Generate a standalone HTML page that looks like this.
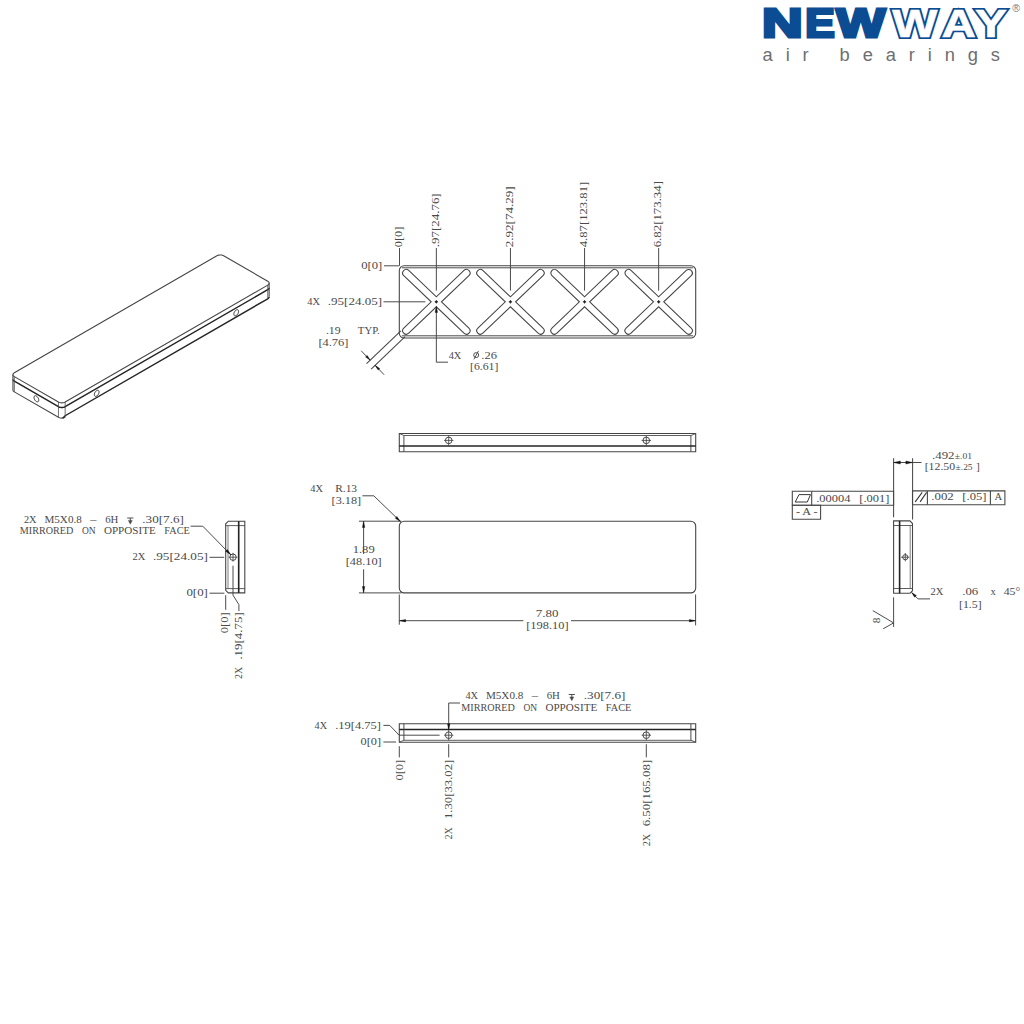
<!DOCTYPE html>
<html><head><meta charset="utf-8"><title>New Way Air Bearings drawing</title>
<style>
html,body{margin:0;padding:0;background:#fff;}
body{width:1024px;height:1024px;overflow:hidden;font-family:"Liberation Serif",serif;}
svg{display:block;}
</style></head><body>
<svg width="1024" height="1024" viewBox="0 0 1024 1024">
<rect x="0" y="0" width="1024" height="1024" fill="#fff"/>
<!-- logo -->
<text y="37.2" font-family="Liberation Sans, sans-serif" font-weight="bold" font-size="40.7" stroke-linejoin="miter" fill="#0c4c92" stroke="#0c4c92" stroke-width="3"><tspan x="762.11" textLength="40.6" lengthAdjust="spacingAndGlyphs">N</tspan><tspan x="805.17" textLength="29.42" lengthAdjust="spacingAndGlyphs">E</tspan><tspan x="836.36" textLength="48.97" lengthAdjust="spacingAndGlyphs">W</tspan></text>
<text y="36.7" font-family="Liberation Sans, sans-serif" font-weight="bold" font-size="39.24" stroke-linejoin="miter" fill="#0c4c92" stroke="#0c4c92" stroke-width="4"><tspan x="892.29" textLength="45.12" lengthAdjust="spacingAndGlyphs">W</tspan><tspan x="941.44" textLength="34.38" lengthAdjust="spacingAndGlyphs">A</tspan><tspan x="975.12" textLength="31.9" lengthAdjust="spacingAndGlyphs">Y</tspan></text>
<text y="36.7" font-family="Liberation Sans, sans-serif" font-weight="bold" font-size="39.24" stroke-linejoin="miter" fill="#fff" stroke="#fff" stroke-width="0.6"><tspan x="892.29" textLength="45.12" lengthAdjust="spacingAndGlyphs">W</tspan><tspan x="941.44" textLength="34.38" lengthAdjust="spacingAndGlyphs">A</tspan><tspan x="975.12" textLength="31.9" lengthAdjust="spacingAndGlyphs">Y</tspan></text>
<text x="1012.3" y="12" font-family="Liberation Sans, sans-serif" font-size="10.5" fill="#77787b">®</text>
<text x="762.6" y="60.8" font-family="Liberation Sans, sans-serif" font-size="18.3" fill="#6d6e71" letter-spacing="12.9">air bearings</text>
<!-- top view -->
<rect x="399.3" y="265.7" width="296.4" height="72.3" rx="4.8" ry="4.8" fill="none" stroke="#454545" stroke-width="1.08"/>
<line x1="401.9" y1="267.8" x2="693.1" y2="267.8" stroke="#454545" stroke-width="0.97"/>
<line x1="401.9" y1="335.8" x2="693.1" y2="335.8" stroke="#454545" stroke-width="0.97"/>
<path d="M441.51 301.8 L468.92 328.02 A3.57 3.57 0 0 1 463.98 333.18 L436.35 306.74 L408.71 333.18 A3.57 3.57 0 0 1 403.77 328.02 L431.18 301.8 L403.77 275.58 A3.57 3.57 0 0 1 408.71 270.42 L436.35 296.86 L463.98 270.42 A3.57 3.57 0 0 1 468.92 275.58 L441.51 301.8 Z" fill="none" stroke="#454545" stroke-width="1.08"/>
<circle cx="436.35" cy="301.8" r="3.6" fill="none" stroke="#f0eee6" stroke-width="0.54"/>
<circle cx="436.35" cy="301.8" r="0.9" fill="#111" stroke="#111" stroke-width="0.65"/>
<line x1="434.65" y1="301.8" x2="438.05" y2="301.8" stroke="#222" stroke-width="0.76"/>
<line x1="436.35" y1="300.1" x2="436.35" y2="303.5" stroke="#222" stroke-width="0.76"/>
<path d="M515.62 301.8 L543.03 328.02 A3.57 3.57 0 0 1 538.09 333.18 L510.45 306.74 L482.82 333.18 A3.57 3.57 0 0 1 477.88 328.02 L505.29 301.8 L477.88 275.58 A3.57 3.57 0 0 1 482.82 270.42 L510.45 296.86 L538.09 270.42 A3.57 3.57 0 0 1 543.03 275.58 L515.62 301.8 Z" fill="none" stroke="#454545" stroke-width="1.08"/>
<circle cx="510.45" cy="301.8" r="3.6" fill="none" stroke="#f0eee6" stroke-width="0.54"/>
<circle cx="510.45" cy="301.8" r="0.9" fill="#111" stroke="#111" stroke-width="0.65"/>
<line x1="508.75" y1="301.8" x2="512.15" y2="301.8" stroke="#222" stroke-width="0.76"/>
<line x1="510.45" y1="300.1" x2="510.45" y2="303.5" stroke="#222" stroke-width="0.76"/>
<path d="M589.71 301.8 L617.12 328.02 A3.57 3.57 0 0 1 612.18 333.18 L584.55 306.74 L556.91 333.18 A3.57 3.57 0 0 1 551.97 328.02 L579.38 301.8 L551.97 275.58 A3.57 3.57 0 0 1 556.91 270.42 L584.55 296.86 L612.18 270.42 A3.57 3.57 0 0 1 617.12 275.58 L589.71 301.8 Z" fill="none" stroke="#454545" stroke-width="1.08"/>
<circle cx="584.55" cy="301.8" r="3.6" fill="none" stroke="#f0eee6" stroke-width="0.54"/>
<circle cx="584.55" cy="301.8" r="0.9" fill="#111" stroke="#111" stroke-width="0.65"/>
<line x1="582.85" y1="301.8" x2="586.25" y2="301.8" stroke="#222" stroke-width="0.76"/>
<line x1="584.55" y1="300.1" x2="584.55" y2="303.5" stroke="#222" stroke-width="0.76"/>
<path d="M663.82 301.8 L691.23 328.02 A3.57 3.57 0 0 1 686.29 333.18 L658.65 306.74 L631.02 333.18 A3.57 3.57 0 0 1 626.08 328.02 L653.49 301.8 L626.08 275.58 A3.57 3.57 0 0 1 631.02 270.42 L658.65 296.86 L686.29 270.42 A3.57 3.57 0 0 1 691.23 275.58 L663.82 301.8 Z" fill="none" stroke="#454545" stroke-width="1.08"/>
<circle cx="658.65" cy="301.8" r="3.6" fill="none" stroke="#f0eee6" stroke-width="0.54"/>
<circle cx="658.65" cy="301.8" r="0.9" fill="#111" stroke="#111" stroke-width="0.65"/>
<line x1="656.95" y1="301.8" x2="660.35" y2="301.8" stroke="#222" stroke-width="0.76"/>
<line x1="658.65" y1="300.1" x2="658.65" y2="303.5" stroke="#222" stroke-width="0.76"/>
<line x1="399.5" y1="248" x2="399.5" y2="265.7" stroke="#454545" stroke-width="0.97"/>
<line x1="436.35" y1="248" x2="436.35" y2="290.6" stroke="#454545" stroke-width="0.97"/>
<line x1="510.45" y1="248" x2="510.45" y2="290.6" stroke="#454545" stroke-width="0.97"/>
<line x1="584.55" y1="248" x2="584.55" y2="290.6" stroke="#454545" stroke-width="0.97"/>
<line x1="658.65" y1="248" x2="658.65" y2="290.6" stroke="#454545" stroke-width="0.97"/>
<text x="402.2" y="247.3" font-family="Liberation Serif, serif" font-size="11.3" fill="#4a4a4a" textLength="20.7" lengthAdjust="spacingAndGlyphs" transform="rotate(-90 402.2 247.3)">0[0]</text>
<text x="438.9" y="247.3" font-family="Liberation Serif, serif" font-size="11.3" fill="#4a4a4a" textLength="54" lengthAdjust="spacingAndGlyphs" transform="rotate(-90 438.9 247.3)">.97[24.76]</text>
<text x="512.9" y="247.3" font-family="Liberation Serif, serif" font-size="11.3" fill="#4a4a4a" textLength="61" lengthAdjust="spacingAndGlyphs" transform="rotate(-90 512.9 247.3)">2.92[74.29]</text>
<text x="587.1" y="247.3" font-family="Liberation Serif, serif" font-size="11.3" fill="#4a4a4a" textLength="65.6" lengthAdjust="spacingAndGlyphs" transform="rotate(-90 587.1 247.3)">4.87[123.81]</text>
<text x="661.2" y="247.3" font-family="Liberation Serif, serif" font-size="11.3" fill="#4a4a4a" textLength="66.3" lengthAdjust="spacingAndGlyphs" transform="rotate(-90 661.2 247.3)">6.82[173.34]</text>
<line x1="384" y1="265.8" x2="399.3" y2="265.8" stroke="#454545" stroke-width="0.97"/>
<text x="361.2" y="269.3" font-family="Liberation Serif, serif" font-size="10.6" fill="#4a4a4a" textLength="21.1" lengthAdjust="spacingAndGlyphs">0[0]</text>
<line x1="383.5" y1="301.8" x2="425.3" y2="301.8" stroke="#454545" stroke-width="0.97"/>
<text x="307.3" y="304.6" font-family="Liberation Serif, serif" font-size="10.6" fill="#4a4a4a" textLength="12.7" lengthAdjust="spacingAndGlyphs">4X</text>
<text x="327.8" y="304.6" font-family="Liberation Serif, serif" font-size="10.6" fill="#4a4a4a" textLength="54.2" lengthAdjust="spacingAndGlyphs">.95[24.05]</text>
<text x="325.9" y="333.9" font-family="Liberation Serif, serif" font-size="10.6" fill="#4a4a4a" textLength="14.6" lengthAdjust="spacingAndGlyphs">.19</text>
<text x="357.8" y="333.9" font-family="Liberation Serif, serif" font-size="10.6" fill="#4a4a4a" textLength="21.9" lengthAdjust="spacingAndGlyphs">TYP.</text>
<text x="318.4" y="346" font-family="Liberation Serif, serif" font-size="10.6" fill="#4a4a4a" textLength="30.1" lengthAdjust="spacingAndGlyphs">[4.76]</text>
<line x1="400.88" y1="330.79" x2="366.56" y2="363.62" stroke="#454545" stroke-width="1.03"/>
<line x1="405.1" y1="336.64" x2="371.14" y2="369.13" stroke="#454545" stroke-width="1.03"/>
<line x1="361.19" y1="350.77" x2="370.17" y2="360.17" stroke="#454545" stroke-width="0.97"/>
<line x1="384.1" y1="374.72" x2="375.11" y2="365.32" stroke="#454545" stroke-width="0.97"/>
<path d="M370.17 360.17 L365.58 356.95 L367.17 355.43 Z" fill="#111" stroke="#111" stroke-width="0.4"/>
<path d="M375.11 365.32 L379.71 368.54 L378.12 370.06 Z" fill="#111" stroke="#111" stroke-width="0.4"/>
<path d="M436.35 306.7 L436.35 362.2 L448 362.2" fill="none" stroke="#454545" stroke-width="0.97"/>
<path d="M436.35 306.4 L437.55 312.4 L435.15 312.4 Z" fill="#111" stroke="#111" stroke-width="0.4"/>
<text x="448.7" y="358.6" font-family="Liberation Serif, serif" font-size="10.6" fill="#4a4a4a" textLength="12.6" lengthAdjust="spacingAndGlyphs">4X</text>
<text x="481.3" y="358.6" font-family="Liberation Serif, serif" font-size="10.6" fill="#4a4a4a" textLength="15.6" lengthAdjust="spacingAndGlyphs">.26</text>
<circle cx="476.2" cy="355.1" r="2.5" fill="none" stroke="#4a4a4a" stroke-width="0.97"/>
<line x1="473.9" y1="359.3" x2="478.5" y2="350.9" stroke="#4a4a4a" stroke-width="0.97"/>
<text x="470" y="370" font-family="Liberation Serif, serif" font-size="10.6" fill="#4a4a4a" textLength="28.4" lengthAdjust="spacingAndGlyphs">[6.61]</text>
<!-- side view -->
<path d="M399.3 433.5 L695.7 433.5 L695.7 451.7 L399.3 451.7 Z" fill="none" stroke="#454545" stroke-width="1.08"/>
<line x1="403.9" y1="435.5" x2="691.1" y2="435.5" stroke="#454545" stroke-width="0.86"/>
<line x1="399.3" y1="433.5" x2="403.9" y2="435.5" stroke="#454545" stroke-width="0.86"/>
<line x1="695.7" y1="433.5" x2="691.1" y2="435.5" stroke="#454545" stroke-width="0.86"/>
<line x1="403.9" y1="435.5" x2="403.9" y2="451.7" stroke="#454545" stroke-width="0.97"/>
<line x1="690.9" y1="435.5" x2="690.9" y2="451.7" stroke="#454545" stroke-width="0.97"/>
<line x1="399.3" y1="446" x2="695.7" y2="446" stroke="#242424" stroke-width="1.73"/>
<circle cx="448.7" cy="440.4" r="3.3" fill="none" stroke="#454545" stroke-width="0.97"/>
<line x1="444" y1="440.4" x2="453.4" y2="440.4" stroke="#454545" stroke-width="0.86"/>
<line x1="448.7" y1="435.3" x2="448.7" y2="446" stroke="#454545" stroke-width="0.86"/>
<circle cx="646.3" cy="440.4" r="3.3" fill="none" stroke="#454545" stroke-width="0.97"/>
<line x1="641.6" y1="440.4" x2="651" y2="440.4" stroke="#454545" stroke-width="0.86"/>
<line x1="646.3" y1="435.3" x2="646.3" y2="446" stroke="#454545" stroke-width="0.86"/>
<!-- plain view -->
<rect x="399.3" y="521.2" width="296.4" height="71.7" rx="4.8" ry="4.8" fill="none" stroke="#454545" stroke-width="1.08"/>
<line x1="358.9" y1="521.2" x2="401.3" y2="521.2" stroke="#454545" stroke-width="0.97"/>
<line x1="358.9" y1="592.9" x2="401.3" y2="592.9" stroke="#454545" stroke-width="0.97"/>
<line x1="363.6" y1="521.2" x2="363.6" y2="554" stroke="#454545" stroke-width="0.97"/>
<line x1="363.6" y1="569.3" x2="363.6" y2="592.9" stroke="#454545" stroke-width="0.97"/>
<path d="M363.6 521.5 L364.8 527.5 L362.4 527.5 Z" fill="#111" stroke="#111" stroke-width="0.4"/>
<path d="M363.6 592.6 L362.4 586.6 L364.8 586.6 Z" fill="#111" stroke="#111" stroke-width="0.4"/>
<text x="352.7" y="552.9" font-family="Liberation Serif, serif" font-size="10.6" fill="#4a4a4a" textLength="22" lengthAdjust="spacingAndGlyphs">1.89</text>
<text x="345.7" y="564.8" font-family="Liberation Serif, serif" font-size="10.6" fill="#4a4a4a" textLength="36" lengthAdjust="spacingAndGlyphs">[48.10]</text>
<text x="310.2" y="491.9" font-family="Liberation Serif, serif" font-size="10.6" fill="#4a4a4a" textLength="12.7" lengthAdjust="spacingAndGlyphs">4X</text>
<text x="335.2" y="491.9" font-family="Liberation Serif, serif" font-size="10.6" fill="#4a4a4a" textLength="21.9" lengthAdjust="spacingAndGlyphs">R.13</text>
<text x="331.6" y="503.8" font-family="Liberation Serif, serif" font-size="10.6" fill="#4a4a4a" textLength="29.6" lengthAdjust="spacingAndGlyphs">[3.18]</text>
<path d="M362.4 495.8 L373.8 495.8 L400.2 521.3" fill="none" stroke="#454545" stroke-width="0.97"/>
<path d="M400.4 521.5 L395.25 518.19 L396.92 516.47 Z" fill="#111" stroke="#111" stroke-width="0.4"/>
<line x1="399.3" y1="594.5" x2="399.3" y2="624.7" stroke="#454545" stroke-width="0.97"/>
<line x1="695.6" y1="594.5" x2="695.6" y2="625.4" stroke="#454545" stroke-width="0.97"/>
<line x1="399.3" y1="620.7" x2="523.4" y2="620.7" stroke="#454545" stroke-width="0.97"/>
<line x1="571" y1="620.7" x2="695.7" y2="620.7" stroke="#454545" stroke-width="0.97"/>
<path d="M399.6 620.7 L405.6 619.5 L405.6 621.9 Z" fill="#111" stroke="#111" stroke-width="0.4"/>
<path d="M695.4 620.7 L689.4 621.9 L689.4 619.5 Z" fill="#111" stroke="#111" stroke-width="0.4"/>
<text x="535.8" y="616.8" font-family="Liberation Serif, serif" font-size="10.6" fill="#4a4a4a" textLength="22.7" lengthAdjust="spacingAndGlyphs">7.80</text>
<text x="526.2" y="628.8" font-family="Liberation Serif, serif" font-size="10.6" fill="#4a4a4a" textLength="42.4" lengthAdjust="spacingAndGlyphs">[198.10]</text>
<!-- bottom view -->
<path d="M399.3 723.7 L695.7 723.7 L695.7 742.2 L399.3 742.2 Z" fill="none" stroke="#454545" stroke-width="1.08"/>
<line x1="399.3" y1="729.5" x2="695.7" y2="729.5" stroke="#242424" stroke-width="1.73"/>
<line x1="403.9" y1="740.3" x2="691.1" y2="740.3" stroke="#454545" stroke-width="0.86"/>
<line x1="399.3" y1="742.2" x2="403.9" y2="740.3" stroke="#454545" stroke-width="0.86"/>
<line x1="695.7" y1="742.2" x2="691.1" y2="740.3" stroke="#454545" stroke-width="0.86"/>
<line x1="403.9" y1="723.7" x2="403.9" y2="740.3" stroke="#454545" stroke-width="0.97"/>
<line x1="690.9" y1="723.7" x2="690.9" y2="740.3" stroke="#454545" stroke-width="0.97"/>
<circle cx="448.7" cy="735.2" r="3.3" fill="none" stroke="#454545" stroke-width="0.97"/>
<line x1="444" y1="735.2" x2="453.4" y2="735.2" stroke="#454545" stroke-width="0.86"/>
<line x1="448.7" y1="729.5" x2="448.7" y2="740.5" stroke="#454545" stroke-width="0.86"/>
<line x1="448.7" y1="744.2" x2="448.7" y2="757.4" stroke="#454545" stroke-width="0.97"/>
<circle cx="646.3" cy="735.2" r="3.3" fill="none" stroke="#454545" stroke-width="0.97"/>
<line x1="641.6" y1="735.2" x2="651" y2="735.2" stroke="#454545" stroke-width="0.86"/>
<line x1="646.3" y1="729.5" x2="646.3" y2="740.5" stroke="#454545" stroke-width="0.86"/>
<line x1="646.3" y1="744.2" x2="646.3" y2="757.4" stroke="#454545" stroke-width="0.97"/>
<line x1="399.3" y1="746.2" x2="399.3" y2="757.4" stroke="#454545" stroke-width="0.97"/>
<text x="314.6" y="728.5" font-family="Liberation Serif, serif" font-size="10.6" fill="#4a4a4a" textLength="12.4" lengthAdjust="spacingAndGlyphs">4X</text>
<text x="335.2" y="728.5" font-family="Liberation Serif, serif" font-size="10.6" fill="#4a4a4a" textLength="45.8" lengthAdjust="spacingAndGlyphs">.19[4.75]</text>
<path d="M383.4 725.4 L389.8 725.4 L399.1 735.2 L439.6 735.2" fill="none" stroke="#454545" stroke-width="0.97"/>
<text x="360.5" y="745.1" font-family="Liberation Serif, serif" font-size="10.6" fill="#4a4a4a" textLength="20.5" lengthAdjust="spacingAndGlyphs">0[0]</text>
<line x1="383.4" y1="742" x2="396.1" y2="742" stroke="#454545" stroke-width="0.97"/>
<path d="M448.7 729 L448.7 703 L460 703" fill="none" stroke="#454545" stroke-width="0.97"/>
<path d="M448.7 729.8 L447.5 723.8 L449.9 723.8 Z" fill="#111" stroke="#111" stroke-width="0.4"/>
<text x="465.4" y="699.1" font-family="Liberation Serif, serif" font-size="10.6" fill="#4a4a4a" textLength="12.6" lengthAdjust="spacingAndGlyphs">4X</text>
<text x="485.9" y="699.1" font-family="Liberation Serif, serif" font-size="10.6" fill="#4a4a4a" textLength="37.4" lengthAdjust="spacingAndGlyphs">M5X0.8</text>
<text x="531.7" y="699.3" font-family="Liberation Serif, serif" font-size="10.6" fill="#4a4a4a" textLength="6.2" lengthAdjust="spacingAndGlyphs">–</text>
<text x="546.7" y="699.1" font-family="Liberation Serif, serif" font-size="10.6" fill="#4a4a4a" textLength="13.2" lengthAdjust="spacingAndGlyphs">6H</text>
<line x1="568.7" y1="694.5" x2="574.9" y2="694.5" stroke="#4a4a4a" stroke-width="0.97"/>
<line x1="571.8" y1="694.5" x2="571.8" y2="698.6" stroke="#4a4a4a" stroke-width="0.97"/>
<path d="M571.8 700.7 L569.8 696.9 L573.8 696.9 Z" fill="#4a4a4a" stroke="#4a4a4a" stroke-width="0.4"/>
<text x="583.8" y="699.1" font-family="Liberation Serif, serif" font-size="10.6" fill="#4a4a4a" textLength="41.6" lengthAdjust="spacingAndGlyphs">.30[7.6]</text>
<text x="461.3" y="711.1" font-family="Liberation Serif, serif" font-size="10.6" fill="#4a4a4a" textLength="53.5" lengthAdjust="spacingAndGlyphs">MIRRORED</text>
<text x="523.5" y="711.1" font-family="Liberation Serif, serif" font-size="10.6" fill="#4a4a4a" textLength="13.7" lengthAdjust="spacingAndGlyphs">ON</text>
<text x="545.4" y="711.1" font-family="Liberation Serif, serif" font-size="10.6" fill="#4a4a4a" textLength="51.8" lengthAdjust="spacingAndGlyphs">OPPOSITE</text>
<text x="605.8" y="711.1" font-family="Liberation Serif, serif" font-size="10.6" fill="#4a4a4a" textLength="25.5" lengthAdjust="spacingAndGlyphs">FACE</text>
<text x="403.2" y="780.6" font-family="Liberation Serif, serif" font-size="11.3" fill="#4a4a4a" textLength="20.9" lengthAdjust="spacingAndGlyphs" transform="rotate(-90 403.2 780.6)">0[0]</text>
<text x="451.9" y="839.6" font-family="Liberation Serif, serif" font-size="11.3" fill="#4a4a4a" textLength="12.3" lengthAdjust="spacingAndGlyphs" transform="rotate(-90 451.9 839.6)">2X</text>
<text x="451.9" y="819" font-family="Liberation Serif, serif" font-size="11.3" fill="#4a4a4a" textLength="59.3" lengthAdjust="spacingAndGlyphs" transform="rotate(-90 451.9 819)">1.30[33.02]</text>
<text x="649.7" y="846.3" font-family="Liberation Serif, serif" font-size="11.3" fill="#4a4a4a" textLength="12.6" lengthAdjust="spacingAndGlyphs" transform="rotate(-90 649.7 846.3)">2X</text>
<text x="649.7" y="826.3" font-family="Liberation Serif, serif" font-size="11.3" fill="#4a4a4a" textLength="66.5" lengthAdjust="spacingAndGlyphs" transform="rotate(-90 649.7 826.3)">6.50[165.08]</text>
<!-- left end view -->
<path d="M228.3 521.2 L244.8 521.2 L244.8 592.9 L228.3 592.9 L225.7 590.3 L225.7 523.8 Z" fill="none" stroke="#454545" stroke-width="1.08"/>
<line x1="225.7" y1="525.6" x2="244.8" y2="525.6" stroke="#454545" stroke-width="0.86"/>
<line x1="225.7" y1="588.6" x2="244.8" y2="588.6" stroke="#454545" stroke-width="0.86"/>
<line x1="238.7" y1="521.2" x2="238.7" y2="592.9" stroke="#242424" stroke-width="1.62"/>
<line x1="228" y1="525.6" x2="228" y2="588.6" stroke="#555" stroke-width="0.76"/>
<circle cx="233" cy="557.2" r="3.2" fill="none" stroke="#454545" stroke-width="0.97"/>
<line x1="228.6" y1="557.2" x2="237.4" y2="557.2" stroke="#454545" stroke-width="0.86"/>
<line x1="233" y1="552.8" x2="233" y2="561.6" stroke="#454545" stroke-width="0.86"/>
<text x="23.9" y="522.6" font-family="Liberation Serif, serif" font-size="10.6" fill="#4a4a4a" textLength="12.6" lengthAdjust="spacingAndGlyphs">2X</text>
<text x="44.4" y="522.6" font-family="Liberation Serif, serif" font-size="10.6" fill="#4a4a4a" textLength="37.4" lengthAdjust="spacingAndGlyphs">M5X0.8</text>
<text x="90.2" y="522.8" font-family="Liberation Serif, serif" font-size="10.6" fill="#4a4a4a" textLength="6.2" lengthAdjust="spacingAndGlyphs">–</text>
<text x="105.2" y="522.6" font-family="Liberation Serif, serif" font-size="10.6" fill="#4a4a4a" textLength="13.2" lengthAdjust="spacingAndGlyphs">6H</text>
<line x1="127.2" y1="518" x2="133.4" y2="518" stroke="#4a4a4a" stroke-width="0.97"/>
<line x1="130.3" y1="518" x2="130.3" y2="522.1" stroke="#4a4a4a" stroke-width="0.97"/>
<path d="M130.3 524.2 L128.3 520.4 L132.3 520.4 Z" fill="#4a4a4a" stroke="#4a4a4a" stroke-width="0.4"/>
<text x="142.3" y="522.6" font-family="Liberation Serif, serif" font-size="10.6" fill="#4a4a4a" textLength="41.6" lengthAdjust="spacingAndGlyphs">.30[7.6]</text>
<text x="19.8" y="534" font-family="Liberation Serif, serif" font-size="10.6" fill="#4a4a4a" textLength="53.5" lengthAdjust="spacingAndGlyphs">MIRRORED</text>
<text x="82" y="534" font-family="Liberation Serif, serif" font-size="10.6" fill="#4a4a4a" textLength="13.7" lengthAdjust="spacingAndGlyphs">ON</text>
<text x="103.9" y="534" font-family="Liberation Serif, serif" font-size="10.6" fill="#4a4a4a" textLength="51.8" lengthAdjust="spacingAndGlyphs">OPPOSITE</text>
<text x="164.3" y="534" font-family="Liberation Serif, serif" font-size="10.6" fill="#4a4a4a" textLength="25.5" lengthAdjust="spacingAndGlyphs">FACE</text>
<path d="M190.6 526.2 L202.8 526.2 L230.8 554.8" fill="none" stroke="#454545" stroke-width="0.97"/>
<path d="M231 555 L225.58 551.2 L227.37 549.46 Z" fill="#111" stroke="#111" stroke-width="0.4"/>
<text x="132.6" y="559.6" font-family="Liberation Serif, serif" font-size="10.6" fill="#4a4a4a" textLength="12.8" lengthAdjust="spacingAndGlyphs">2X</text>
<text x="152.9" y="559.6" font-family="Liberation Serif, serif" font-size="10.6" fill="#4a4a4a" textLength="55" lengthAdjust="spacingAndGlyphs">.95[24.05]</text>
<line x1="209.5" y1="557.3" x2="224.2" y2="557.3" stroke="#454545" stroke-width="0.97"/>
<text x="186.4" y="595.6" font-family="Liberation Serif, serif" font-size="10.6" fill="#4a4a4a" textLength="21.5" lengthAdjust="spacingAndGlyphs">0[0]</text>
<line x1="209.5" y1="593.2" x2="224.4" y2="593.2" stroke="#454545" stroke-width="0.97"/>
<line x1="225.7" y1="595.2" x2="225.7" y2="609.8" stroke="#454545" stroke-width="0.97"/>
<path d="M233 565.7 L233 595.2 L238.9 604.6 L238.9 611" fill="none" stroke="#454545" stroke-width="0.97"/>
<text x="228.5" y="633.2" font-family="Liberation Serif, serif" font-size="11.3" fill="#4a4a4a" textLength="20.9" lengthAdjust="spacingAndGlyphs" transform="rotate(-90 228.5 633.2)">0[0]</text>
<text x="242.1" y="679" font-family="Liberation Serif, serif" font-size="11.3" fill="#4a4a4a" textLength="12" lengthAdjust="spacingAndGlyphs" transform="rotate(-90 242.1 679)">2X</text>
<text x="242.1" y="659.6" font-family="Liberation Serif, serif" font-size="11.3" fill="#4a4a4a" textLength="47.3" lengthAdjust="spacingAndGlyphs" transform="rotate(-90 242.1 659.6)">.19[4.75]</text>
<!-- right end view -->
<path d="M893.6 520.9 L909.9 520.9 L912.5 523.5 L912.5 590.7 L909.9 593.3 L893.6 593.3 Z" fill="none" stroke="#454545" stroke-width="1.08"/>
<line x1="893.6" y1="525.5" x2="912.5" y2="525.5" stroke="#454545" stroke-width="0.86"/>
<line x1="893.6" y1="588.5" x2="912.5" y2="588.5" stroke="#454545" stroke-width="0.86"/>
<line x1="899.6" y1="520.9" x2="899.6" y2="593.3" stroke="#242424" stroke-width="1.62"/>
<line x1="910.2" y1="525.5" x2="910.2" y2="588.5" stroke="#555" stroke-width="0.76"/>
<circle cx="905.3" cy="557.2" r="2.6" fill="none" stroke="#454545" stroke-width="0.97"/>
<line x1="901.1" y1="557.2" x2="909.5" y2="557.2" stroke="#454545" stroke-width="0.86"/>
<line x1="905.3" y1="553" x2="905.3" y2="561.4" stroke="#454545" stroke-width="0.86"/>
<line x1="893.6" y1="458.3" x2="893.6" y2="517.3" stroke="#454545" stroke-width="1.03"/>
<line x1="912.6" y1="458.3" x2="912.6" y2="519.5" stroke="#454545" stroke-width="1.03"/>
<line x1="893.6" y1="462.5" x2="921.5" y2="462.5" stroke="#454545" stroke-width="0.97"/>
<path d="M893.8 462.5 L900.3 461 L900.3 464 Z" fill="#111" stroke="#111" stroke-width="0.4"/>
<path d="M912.4 462.5 L905.9 464 L905.9 461 Z" fill="#111" stroke="#111" stroke-width="0.4"/>
<text x="932" y="458.6" font-family="Liberation Serif, serif" font-size="10.6" fill="#4a4a4a" textLength="22.5" lengthAdjust="spacingAndGlyphs">.492</text>
<text x="954.8" y="458.6" font-family="Liberation Serif, serif" font-size="8.2" fill="#4a4a4a" textLength="17.2" lengthAdjust="spacingAndGlyphs">±.01</text>
<text x="924.7" y="470.2" font-family="Liberation Serif, serif" font-size="10.6" fill="#4a4a4a" textLength="30.5" lengthAdjust="spacingAndGlyphs">[12.50</text>
<text x="955.6" y="470.2" font-family="Liberation Serif, serif" font-size="8.2" fill="#4a4a4a" textLength="17" lengthAdjust="spacingAndGlyphs">±.25</text>
<text x="976.3" y="470.2" font-family="Liberation Serif, serif" font-size="10.6" fill="#4a4a4a">]</text>
<path d="M792.3 491.2 L893.6 491.2 L893.6 505.3 L792.3 505.3 Z" fill="none" stroke="#454545" stroke-width="1.08"/>
<line x1="811.7" y1="491.2" x2="811.7" y2="505.3" stroke="#454545" stroke-width="1.08"/>
<path d="M795.2 502 L807.3 502 L810.5 494.6 L799 494.6 Z" fill="none" stroke="#333" stroke-width="0.97"/>
<text x="816.2" y="501.9" font-family="Liberation Serif, serif" font-size="10.6" fill="#4a4a4a" textLength="34.3" lengthAdjust="spacingAndGlyphs">.00004</text>
<text x="859.3" y="501.9" font-family="Liberation Serif, serif" font-size="10.6" fill="#4a4a4a" textLength="30.1" lengthAdjust="spacingAndGlyphs">[.001]</text>
<path d="M792.3 505.3 L820.6 505.3 L820.6 519.3 L792.3 519.3 Z" fill="none" stroke="#454545" stroke-width="1.08"/>
<text x="795.9" y="514.6" font-family="Liberation Serif, serif" font-size="10.6" fill="#4a4a4a" textLength="21.6" lengthAdjust="spacingAndGlyphs">- A -</text>
<path d="M912.5 490.9 L1004.9 490.9 L1004.9 504.8 L912.5 504.8 Z" fill="none" stroke="#454545" stroke-width="1.08"/>
<line x1="927.4" y1="490.9" x2="927.4" y2="504.8" stroke="#454545" stroke-width="1.08"/>
<line x1="990.4" y1="490.9" x2="990.4" y2="504.8" stroke="#454545" stroke-width="1.08"/>
<line x1="915.2" y1="501.9" x2="922.2" y2="492.4" stroke="#333" stroke-width="1.03"/>
<line x1="920.1" y1="501.9" x2="926.6" y2="492.4" stroke="#333" stroke-width="1.03"/>
<text x="931.3" y="500.2" font-family="Liberation Serif, serif" font-size="10.6" fill="#4a4a4a" textLength="22.5" lengthAdjust="spacingAndGlyphs">.002</text>
<text x="962.3" y="500.2" font-family="Liberation Serif, serif" font-size="10.6" fill="#4a4a4a" textLength="24.2" lengthAdjust="spacingAndGlyphs">[.05]</text>
<text x="994.4" y="500.2" font-family="Liberation Serif, serif" font-size="10.6" fill="#4a4a4a">A</text>
<path d="M911.8 592.7 L918 598.9 L930 598.9" fill="none" stroke="#454545" stroke-width="0.97"/>
<path d="M911.6 592.5 L916.34 595.54 L914.64 597.24 Z" fill="#111" stroke="#111" stroke-width="0.4"/>
<text x="930.5" y="595.2" font-family="Liberation Serif, serif" font-size="10.6" fill="#4a4a4a" textLength="12.8" lengthAdjust="spacingAndGlyphs">2X</text>
<text x="962.2" y="595.2" font-family="Liberation Serif, serif" font-size="10.6" fill="#4a4a4a" textLength="16" lengthAdjust="spacingAndGlyphs">.06</text>
<text x="990.5" y="595.2" font-family="Liberation Serif, serif" font-size="10.6" fill="#4a4a4a">x</text>
<text x="1003.7" y="595.2" font-family="Liberation Serif, serif" font-size="10.6" fill="#4a4a4a" textLength="16.5" lengthAdjust="spacingAndGlyphs">45°</text>
<text x="959" y="607.5" font-family="Liberation Serif, serif" font-size="10.6" fill="#4a4a4a" textLength="22.7" lengthAdjust="spacingAndGlyphs">[1.5]</text>
<line x1="893.6" y1="597.3" x2="893.6" y2="627" stroke="#454545" stroke-width="0.97"/>
<path d="M872.8 610.6 L893.6 622.9 L883.2 628.8" fill="none" stroke="#454545" stroke-width="0.97"/>
<text x="879.8" y="623.2" font-family="Liberation Serif, serif" font-size="11.3" fill="#4a4a4a" transform="rotate(-90 879.8 623.2)">8</text>
<!-- isometric view -->
<path d="M14.34 376.6 L13.86 376.27 L13.47 375.9 L13.18 375.51 L13.01 375.09 L12.95 374.66 L13.01 374.23 L13.18 373.81 L13.47 373.41 L13.86 373.05 L14.34 372.72 L216.92 255.76 L217.49 255.48 L218.13 255.25 L218.81 255.09 L219.54 254.99 L220.28 254.95 L221.03 254.99 L221.75 255.09 L222.44 255.25 L223.08 255.48 L223.64 255.76 L267.74 281.22 L268.23 281.55 L268.62 281.91 L268.9 282.31 L269.08 282.73 L269.13 283.16 L269.08 283.59 L268.9 284.01 L268.62 284.4 L268.23 284.77 L267.74 285.1 L65.16 402.06 L64.59 402.34 L63.96 402.56 L63.27 402.73 L62.54 402.83 L61.8 402.86 L61.06 402.83 L60.33 402.73 L59.64 402.56 L59.01 402.34 L58.44 402.06 Z" fill="none" stroke="#454545" stroke-width="1.08"/>
<path d="M12.95 379.3 L13.01 379.72 L13.18 380.14 L13.47 380.54 L13.86 380.91 L14.34 381.23 L58.44 406.7 L59.01 406.98 L59.64 407.2 L60.33 407.37 L61.06 407.47 L61.8 407.5 L62.54 407.47 L63.27 407.37 L63.96 407.2 L64.59 406.98 L65.16 406.7 L267.74 289.73 L268.23 289.41 L268.62 289.04 L268.9 288.64 L269.08 288.22 L269.13 287.8" fill="none" stroke="#222" stroke-width="1.46"/>
<path d="M12.95 389.91 L13.01 390.34 L13.18 390.76 L13.47 391.15 L13.86 391.52 L14.34 391.85 L58.44 417.31 L59.01 417.59 L59.64 417.81 L60.33 417.98 L61.06 418.08 L61.8 418.11 L62.54 418.08 L63.27 417.98 L63.96 417.81 L64.59 417.59 L65.16 417.31" fill="none" stroke="#454545" stroke-width="1.08"/>
<path d="M62.6 418.18 L65.16 415.72 L267.74 298.76 L268.23 298.44 L268.62 298.07 L268.9 297.67 L269.08 297.25 L269.13 296.82" fill="none" stroke="#262626" stroke-width="1.46"/>
<line x1="12.95" y1="374.66" x2="12.95" y2="389.91" stroke="#454545" stroke-width="1.08"/>
<line x1="269.13" y1="283.16" x2="269.13" y2="296.82" stroke="#454545" stroke-width="1.08"/>
<line x1="14.34" y1="376.6" x2="14.34" y2="391.85" stroke="#444" stroke-width="0.76"/>
<line x1="58.44" y1="402.06" x2="58.44" y2="417.31" stroke="#444" stroke-width="0.76"/>
<line x1="65.16" y1="402.06" x2="65.16" y2="417.31" stroke="#444" stroke-width="0.76"/>
<line x1="267.74" y1="285.1" x2="267.74" y2="298.76" stroke="#444" stroke-width="0.76"/>
<path d="M99.06 391.94 L98.98 392.7 L98.75 393.5 L98.37 394.28 L97.88 395 L97.3 395.61 L96.69 396.06 L96.07 396.32 L95.5 396.38 L95.01 396.22 L94.63 395.87 L94.39 395.35 L94.31 394.69 L94.39 393.93 L94.63 393.13 L95.01 392.34 L95.5 391.62 L96.07 391.02 L96.69 390.57 L97.3 390.31 L97.88 390.25 L98.37 390.4 L98.75 390.75 L98.98 391.28 Z" fill="none" stroke="#333" stroke-width="0.97"/>
<path d="M238.59 311.38 L238.51 312.14 L238.27 312.94 L237.9 313.73 L237.4 314.45 L236.83 315.05 L236.22 315.5 L235.6 315.76 L235.03 315.82 L234.53 315.67 L234.16 315.32 L233.92 314.79 L233.84 314.13 L233.92 313.37 L234.16 312.57 L234.53 311.79 L235.03 311.07 L235.6 310.46 L236.22 310.01 L236.83 309.75 L237.4 309.69 L237.9 309.84 L238.27 310.2 L238.51 310.72 Z" fill="none" stroke="#333" stroke-width="0.97"/>
<path d="M38.77 400.16 L38.69 400.82 L38.45 401.35 L38.07 401.7 L37.58 401.85 L37.01 401.79 L36.39 401.53 L35.77 401.08 L35.2 400.48 L34.71 399.76 L34.33 398.97 L34.09 398.17 L34.01 397.41 L34.09 396.75 L34.33 396.22 L34.71 395.87 L35.2 395.72 L35.77 395.78 L36.39 396.04 L37.01 396.49 L37.58 397.09 L38.07 397.81 L38.45 398.6 L38.69 399.4 Z" fill="none" stroke="#333" stroke-width="0.97"/>
</svg>
</body></html>
